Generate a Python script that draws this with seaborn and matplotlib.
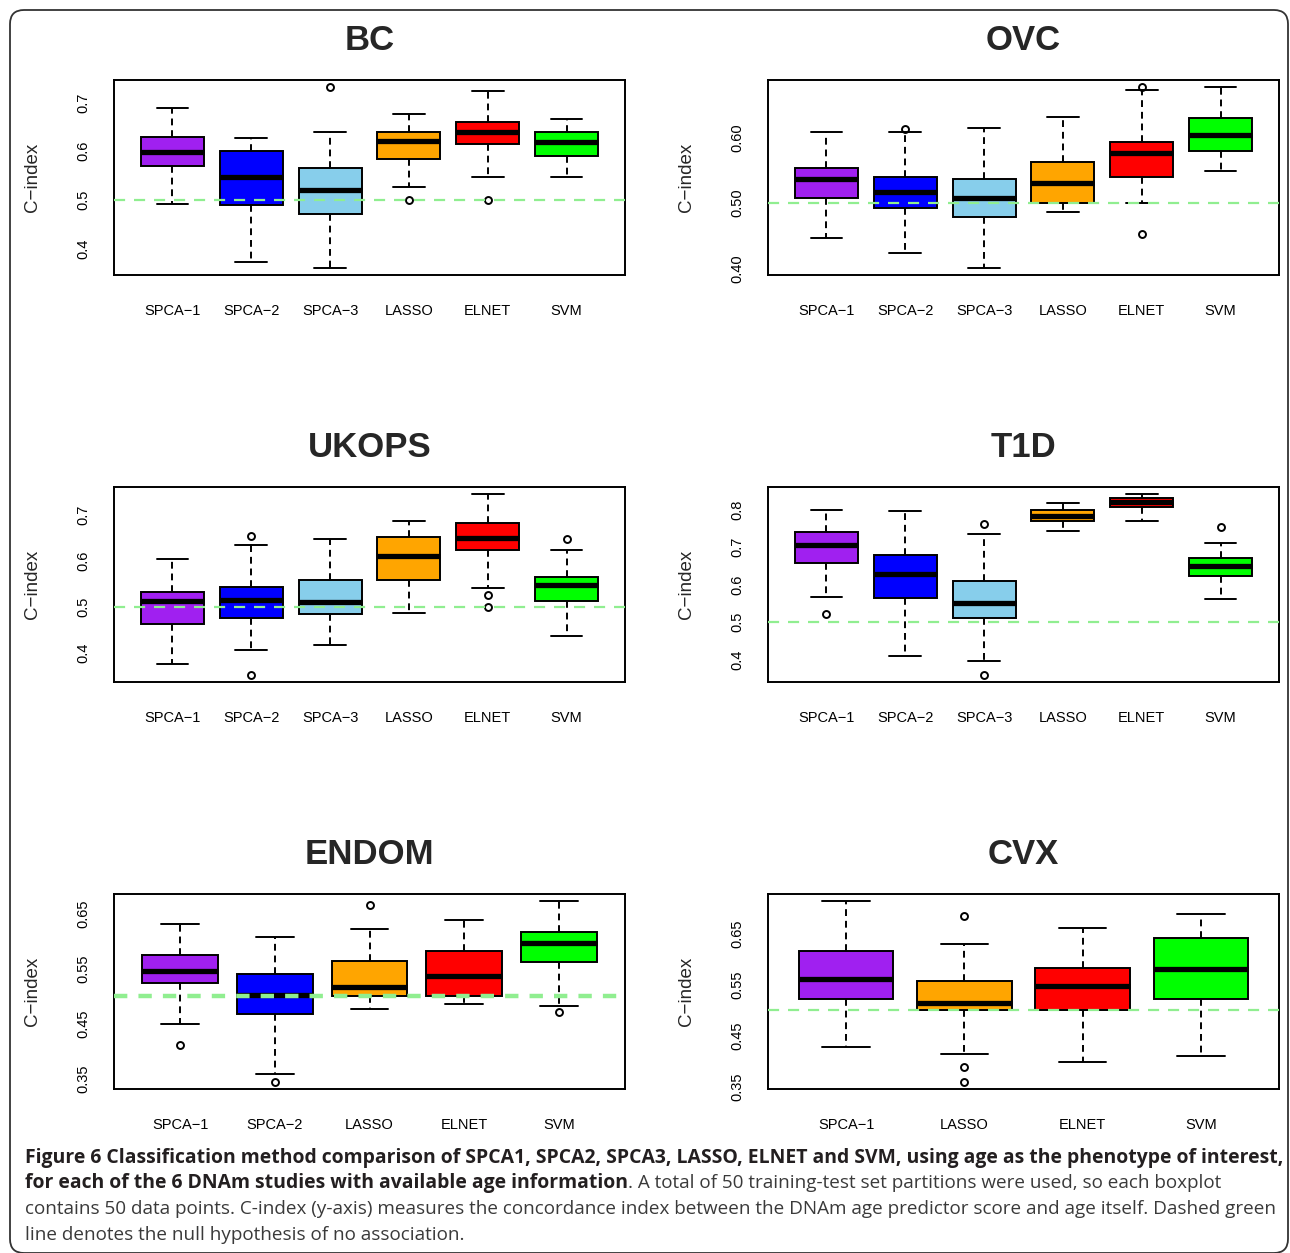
import matplotlib
matplotlib.use("Agg")
import matplotlib.pyplot as plt
import seaborn as sns
from matplotlib.patches import FancyBboxPatch
from matplotlib.transforms import IdentityTransform

sns.set_style("white")
plt.rcParams['font.family'] = ['Liberation Sans', 'DejaVu Sans']

W, H = 1290, 1253

# colours used by the original R boxplots
method_colors = {
    "SPCA−1": "#A020F0", "SPCA−2": "#0000FF", "SPCA−3": "#87CEEB",
    "LASSO": "#FFA500", "ELNET": "#FF0000", "SVM": "#00FF00",
}

# ---- data (C-index summaries) ----
bc_methods = ["SPCA−1", "SPCA−2", "SPCA−3", "LASSO", "ELNET", "SVM"]
bc_lo = [0.491, 0.373, 0.361, 0.527, 0.548, 0.546]
bc_q1 = [0.569, 0.489, 0.472, 0.584, 0.614, 0.590]
bc_med = [0.599, 0.546, 0.520, 0.621, 0.639, 0.619]
bc_q3 = [0.629, 0.600, 0.566, 0.639, 0.659, 0.639]
bc_hi = [0.689, 0.627, 0.639, 0.676, 0.724, 0.666]
bc_out = [[], [], [0.731], [0.500], [0.500], []]

ovc_methods = ["SPCA−1", "SPCA−2", "SPCA−3", "LASSO", "ELNET", "SVM"]
ovc_lo = [0.447, 0.423, 0.401, 0.486, 0.500, 0.549]
ovc_q1 = [0.508, 0.492, 0.479, 0.500, 0.540, 0.579]
ovc_med = [0.537, 0.517, 0.507, 0.531, 0.577, 0.604]
ovc_q3 = [0.553, 0.540, 0.536, 0.563, 0.594, 0.630]
ovc_hi = [0.609, 0.608, 0.614, 0.632, 0.673, 0.677]
ovc_out = [[], [0.613], [], [], [0.677, 0.452], []]

ukops_methods = ["SPCA−1", "SPCA−2", "SPCA−3", "LASSO", "ELNET", "SVM"]
ukops_lo = [0.374, 0.405, 0.416, 0.487, 0.541, 0.436]
ukops_q1 = [0.461, 0.475, 0.485, 0.559, 0.623, 0.512]
ukops_med = [0.512, 0.515, 0.510, 0.610, 0.650, 0.548]
ukops_q3 = [0.531, 0.543, 0.559, 0.652, 0.682, 0.566]
ukops_hi = [0.604, 0.636, 0.649, 0.688, 0.746, 0.623]
ukops_out = [[], [0.655, 0.351], [], [], [0.525, 0.499], [0.649]]

t1d_methods = ["SPCA−1", "SPCA−2", "SPCA−3", "LASSO", "ELNET", "SVM"]
t1d_lo = [0.567, 0.409, 0.395, 0.744, 0.771, 0.562]
t1d_q1 = [0.658, 0.565, 0.512, 0.770, 0.808, 0.623]
t1d_med = [0.707, 0.629, 0.551, 0.785, 0.820, 0.649]
t1d_q3 = [0.740, 0.680, 0.611, 0.801, 0.831, 0.671]
t1d_hi = [0.800, 0.796, 0.735, 0.819, 0.842, 0.712]
t1d_out = [[0.521], [], [0.762, 0.359], [], [], [0.755]]

endom_methods = ["SPCA−1", "SPCA−2", "LASSO", "ELNET", "SVM"]
endom_lo = [0.449, 0.358, 0.476, 0.486, 0.482]
endom_q1 = [0.523, 0.467, 0.500, 0.500, 0.561]
endom_med = [0.545, 0.501, 0.516, 0.536, 0.596]
endom_q3 = [0.575, 0.540, 0.563, 0.581, 0.616]
endom_hi = [0.631, 0.607, 0.622, 0.637, 0.672]
endom_out = [[0.410], [0.344], [0.666], [], [0.471]]

cvx_methods = ["SPCA−1", "LASSO", "ELNET", "SVM"]
cvx_lo = [0.428, 0.413, 0.398, 0.409]
cvx_q1 = [0.522, 0.500, 0.500, 0.522]
cvx_med = [0.562, 0.515, 0.548, 0.582]
cvx_q3 = [0.616, 0.558, 0.584, 0.642]
cvx_hi = [0.715, 0.631, 0.663, 0.689]
cvx_out = [[], [0.685, 0.388, 0.359], [], []]

# ---- figure ----
fig = plt.figure(figsize=(W / 100, H / 100), dpi=100)
fig.patch.set_facecolor("white")

border = FancyBboxPatch((10, 0), 1278, 1243, boxstyle="round,pad=0,rounding_size=14",
                        transform=IdentityTransform(), fill=False, edgecolor="#333333", lw=1.3)
fig.add_artist(border)


def px_axes(left, top, right, bottom):
    return fig.add_axes([left / W, 1 - bottom / H, (right - left) / W, (bottom - top) / H])


def draw_panel(rect, title, methods, lo, q1, med, q3, hi, out, yticks, ylabels,
               null_lw=1.6, null_dash=(5, 4)):
    ax = px_axes(*rect)
    stats = []
    for m, a, b, c, d, e, f in zip(methods, lo, q1, med, q3, hi, out):
        stats.append(dict(label=m, whislo=a, q1=b, med=c, q3=d, whishi=e, fliers=f))
    n = len(methods)
    bp = ax.bxp(stats, positions=range(1, n + 1), widths=0.8, capwidths=0.4,
                patch_artist=True, manage_ticks=False,
                boxprops=dict(edgecolor="black", linewidth=1.4),
                whiskerprops=dict(color="black", linewidth=1.4, linestyle=(0, (3.5, 2.5))),
                capprops=dict(color="black", linewidth=1.4),
                medianprops=dict(color="black", linewidth=3.8, solid_capstyle="butt"),
                flierprops=dict(marker="o", markersize=5, markerfacecolor="none",
                                markeredgecolor="black", markeredgewidth=1.4))
    for patch, m in zip(bp["boxes"], methods):
        patch.set_facecolor(method_colors[m])

    # R style axis ranges: 4% padding
    ext = 0.04 * n
    ax.set_xlim(0.5 - ext, n + 0.5 + ext)
    all_vals = lo + hi + [v for o in out for v in o]
    ymin, ymax = min(all_vals), max(all_vals)
    pad = 0.04 * (ymax - ymin)
    ax.set_ylim(ymin - pad, ymax + pad)

    ax.axhline(0.5, color="#90EE90", lw=null_lw, linestyle=(0, null_dash), zorder=5)

    ax.set_xticks(range(1, n + 1))
    ax.set_xticklabels(methods, fontsize=10.5)
    ax.set_yticks(yticks)
    ax.set_yticklabels(ylabels, rotation=90, va="center", fontsize=10.5)
    ax.tick_params(axis="x", direction="out", length=8, width=1.4, pad=13, colors="black")
    ax.tick_params(axis="y", direction="out", length=8, width=1.4, pad=9, colors="black")
    for sp in ax.spines.values():
        sp.set_linewidth(1.4)
        sp.set_color("black")

    cx = (rect[0] + rect[2]) / 2
    fig.text(cx / W, 1 - (rect[1] - 40) / H, title, ha="center", va="center",
             fontsize=25, fontweight="bold")
    fig.text((rect[0] - 81) / W, 1 - ((rect[1] + rect[3]) / 2) / H, "C−index",
             rotation=90, ha="center", va="center", fontsize=13.5)
    return ax


draw_panel((114, 80, 625, 275), "BC", bc_methods, bc_lo, bc_q1, bc_med, bc_q3, bc_hi, bc_out,
           [0.4, 0.5, 0.6, 0.7], ["0.4", "0.5", "0.6", "0.7"])
draw_panel((768, 80, 1279, 275), "OVC", ovc_methods, ovc_lo, ovc_q1, ovc_med, ovc_q3, ovc_hi, ovc_out,
           [0.40, 0.45, 0.50, 0.55, 0.60, 0.65], ["0.40", "", "0.50", "", "0.60", ""])
draw_panel((114, 487, 625, 682), "UKOPS", ukops_methods, ukops_lo, ukops_q1, ukops_med, ukops_q3,
           ukops_hi, ukops_out, [0.4, 0.5, 0.6, 0.7], ["0.4", "0.5", "0.6", "0.7"])
draw_panel((768, 487, 1279, 682), "T1D", t1d_methods, t1d_lo, t1d_q1, t1d_med, t1d_q3, t1d_hi, t1d_out,
           [0.4, 0.5, 0.6, 0.7, 0.8], ["0.4", "0.5", "0.6", "0.7", "0.8"])
draw_panel((114, 894, 625, 1089), "ENDOM", endom_methods, endom_lo, endom_q1, endom_med, endom_q3,
           endom_hi, endom_out, [0.35, 0.40, 0.45, 0.50, 0.55, 0.60, 0.65],
           ["0.35", "", "0.45", "", "0.55", "", "0.65"], null_lw=3.2, null_dash=(3, 2.5))
draw_panel((768, 894, 1279, 1089), "CVX", cvx_methods, cvx_lo, cvx_q1, cvx_med, cvx_q3, cvx_hi, cvx_out,
           [0.35, 0.40, 0.45, 0.50, 0.55, 0.60, 0.65, 0.70],
           ["0.35", "", "0.45", "", "0.55", "", "0.65", ""])

# ---- caption ----
cap_bold_1 = ("Figure 6 Classification method comparison of SPCA1, SPCA2, SPCA3, LASSO, "
              "ELNET and SVM, using age as the phenotype of interest,")
cap_bold_2 = "for each of the 6 DNAm studies with available age information"
cap_norm_2 = ". A total of 50 training-test set partitions were used, so each boxplot"
cap_norm_3 = ("contains 50 data points. C-index (y-axis) measures the concordance index between "
              "the DNAm age predictor score and age itself. Dashed green")
cap_norm_4 = "line denotes the null hypothesis of no association."

cap_font = ["Open Sans", "DejaVu Sans"]
renderer = fig.canvas.get_renderer()


def fit_size(text, target, weight):
    probe = fig.text(0, 0, text, fontsize=12, fontweight=weight, family=cap_font)
    w = probe.get_window_extent(renderer).width
    probe.remove()
    return 12 * target / w


bold_size = fit_size(cap_bold_1, 1253, "bold")
norm_size = fit_size(cap_norm_3, 1242, "normal")

x0 = 25 / W
ys = [1163, 1188, 1214, 1240]
fig.text(x0, 1 - ys[0] / H, cap_bold_1, fontsize=bold_size, fontweight="bold",
         family=cap_font, color="#231f20", va="baseline")
t2 = fig.text(x0, 1 - ys[1] / H, cap_bold_2, fontsize=bold_size, fontweight="bold",
              family=cap_font, color="#231f20", va="baseline")
bb = t2.get_window_extent(renderer)
fig.text(bb.x1 / W, 1 - ys[1] / H, cap_norm_2, fontsize=norm_size, family=cap_font,
         color="#3a3a3a", va="baseline")
fig.text(x0, 1 - ys[2] / H, cap_norm_3, fontsize=norm_size, family=cap_font,
         color="#3a3a3a", va="baseline")
fig.text(x0, 1 - ys[3] / H, cap_norm_4, fontsize=norm_size, family=cap_font,
         color="#3a3a3a", va="baseline")

fig.savefig("out.png", dpi=100)
